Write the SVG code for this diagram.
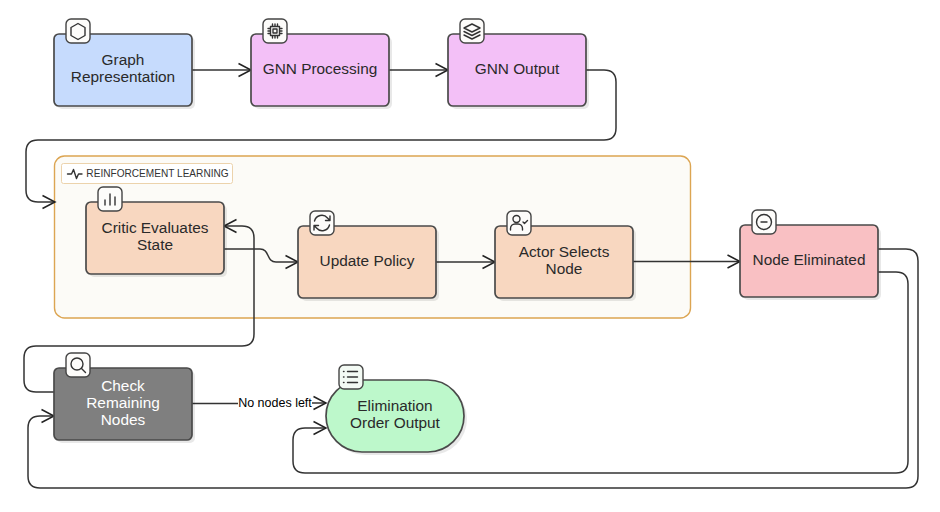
<svg xmlns="http://www.w3.org/2000/svg" width="940" height="512" viewBox="0 0 940 512">
<style>
text{font-family:"Liberation Sans",Arial,sans-serif;font-size:15.400px;fill:#2a2a2a;text-anchor:middle}
.n{stroke:#4a4a4a;stroke-width:1.700}
.s{fill:#000;opacity:.09}
.b{fill:#fdfcfa;stroke:#444;stroke-width:1.400}
.i{fill:none;stroke:#333;stroke-width:1.400;stroke-linecap:round;stroke-linejoin:round}
.c{fill:none;stroke:#333;stroke-width:1.500;marker-end:url(#a)}
.d{fill:none;stroke:#333;stroke-width:1.500}
</style>
<defs>
<marker id="a" markerUnits="userSpaceOnUse" markerWidth="16" markerHeight="16" refX="12.500" refY="6.500" orient="auto" overflow="visible">
<path d="M0 0L12.500 6.500L0 13" fill="none" stroke="#222" stroke-width="1.500"/>
</marker>
</defs>
<g id="group-rl">
<rect x="54.500" y="156" width="636" height="162" rx="10" fill="#fcfbf7" stroke="#dca552" stroke-width="1.400"/>
<rect x="61.500" y="163.500" width="171" height="20" rx="2" fill="#fff" stroke="#ecd3ac"/>
<path class="i" d="M67.500 174h4l2-4.500 3 9 2-4.500h3.500"/>
<text x="157.500" y="177" style="font-size:10.100px;fill:#333">REINFORCEMENT LEARNING</text>
</g>
<g id="connectors">
<path class="c" d="M192 70H251"/>
<path class="c" d="M389 70H448"/>
<path class="c" d="M586 70H604Q616 70 616 82V128Q616 140 604 140H38Q26 140 26 152V190Q26 202 38 202H55"/>
<path class="c" d="M224 249H260C270 249 266 262 276 262H298"/>
<path class="c" d="M436 262H495"/>
<path class="c" d="M633 261.500H740"/>
<path class="c" d="M54 392H36Q24 392 24 380V358Q24 346 36 346H242Q254 346 254 334V238Q254 226 242 226H224"/>
<path class="c" d="M878 249H906Q918 249 918 261V476Q918 488 906 488H40Q28 488 28 476V428Q28 416 40 416H54"/>
<path class="c" d="M878 272H896Q908 272 908 284V461Q908 473 896 473H305Q293 473 293 461V440Q293 428 305 428H326"/>
<path class="d" d="M192 403.500H238"/>
<path class="c" d="M312 403H326"/>
</g>
<g id="node-graph">
<rect class="s" x="57" y="37" width="138" height="72" rx="5"/>
<rect class="n" x="54" y="34" width="138" height="72" rx="5" fill="#c6dbfd"/>
<text x="123" y="65">Graph</text><text x="123" y="82">Representation</text>
<rect class="b" x="66" y="19" width="24" height="24" rx="5"/>
<path class="i" d="M78 23.500l7 4v8l-7 4-7-4v-8z"/>
</g>
<g id="node-gnn-processing">
<rect class="s" x="254" y="37" width="138" height="72" rx="5"/>
<rect class="n" x="251" y="34" width="138" height="72" rx="5" fill="#f3c0f7"/>
<text x="320" y="74">GNN Processing</text>
<rect class="b" x="263" y="19" width="24" height="24" rx="5"/>
<path class="i" d="M270.500 26.500h9v9h-9zM273 29h4v4h-4zM272.500 24v2.500M275 24v2.500M277.500 24v2.500M272.500 35.500v2.500M275 35.500v2.500M277.500 35.500v2.500M268 28.500h2.500M268 31h2.500M268 33.500h2.500M279.500 28.500h2.500M279.500 31h2.500M279.500 33.500h2.500"/>
</g>
<g id="node-gnn-output">
<rect class="s" x="451" y="37" width="138" height="72" rx="5"/>
<rect class="n" x="448" y="34" width="138" height="72" rx="5" fill="#f3c0f7"/>
<text x="517" y="74">GNN Output</text>
<rect class="b" x="460" y="19" width="24" height="24" rx="5"/>
<path class="i" d="M472 24l8 4-8 4-8-4zM464 31.500l8 4 8-4M464 35l8 4 8-4"/>
</g>
<g id="node-critic">
<rect class="s" x="89" y="205" width="138" height="72" rx="5"/>
<rect class="n" x="86" y="202" width="138" height="72" rx="5" fill="#f8d7c0"/>
<text x="155" y="233">Critic Evaluates</text><text x="155" y="250">State</text>
<rect class="b" x="98" y="187" width="24" height="24" rx="5"/>
<path class="i" d="M105 205v-5M110 205v-11M115 205v-8"/>
</g>
<g id="node-update">
<rect class="s" x="301" y="229" width="138" height="72" rx="5"/>
<rect class="n" x="298" y="226" width="138" height="72" rx="5" fill="#f8d7c0"/>
<text x="367" y="266">Update Policy</text>
<rect class="b" x="310" y="211" width="24" height="24" rx="5"/>
<path class="i" d="M314.500 221a7.500 7.500 0 0 1 13-3l2.500 2.500M330 216v4.500h-4.500M329.500 225a7.500 7.500 0 0 1-13 3l-2.500-2.500M314 230v-4.500h4.500"/>
</g>
<g id="node-actor">
<rect class="s" x="498" y="229" width="138" height="72" rx="5"/>
<rect class="n" x="495" y="226" width="138" height="72" rx="5" fill="#f8d7c0"/>
<text x="564" y="257">Actor Selects</text><text x="564" y="274">Node</text>
<rect class="b" x="507" y="211" width="24" height="24" rx="5"/>
<circle class="i" cx="516.500" cy="219" r="3.500"/>
<path class="i" d="M510.500 230v-1.500a4.500 4.500 0 0 1 4.500-4.500h3a4.500 4.500 0 0 1 4.500 4.500v1.500M523 222l1.500 1.500 3-3"/>
</g>
<g id="node-eliminated">
<rect class="s" x="743" y="228" width="138" height="72" rx="5"/>
<rect class="n" x="740" y="225" width="138" height="72" rx="5" fill="#f9c0c3"/>
<text x="809" y="265">Node Eliminated</text>
<rect class="b" x="752" y="210" width="24" height="24" rx="5"/>
<circle class="i" cx="764" cy="222" r="7.500"/>
<path class="i" d="M761 222h6"/>
</g>
<g id="node-check">
<rect class="s" x="57" y="371" width="138" height="72" rx="5"/>
<rect class="n" x="54" y="368" width="138" height="72" rx="5" fill="#7f7f7f"/>
<text x="123" y="391" style="fill:#fff">Check</text><text x="123" y="408" style="fill:#fff">Remaining</text><text x="123" y="425" style="fill:#fff">Nodes</text>
<rect class="b" x="66" y="353" width="24" height="24" rx="5"/>
<circle class="i" cx="77" cy="364" r="6"/>
<path class="i" d="M81.500 368.500l4 4"/>
</g>
<g id="node-output">
<rect class="s" x="329" y="383" width="138" height="72" rx="36"/>
<rect class="n" x="326" y="380" width="138" height="72" rx="36" fill="#bdf8cb"/>
<text x="395" y="411">Elimination</text><text x="395" y="428">Order Output</text>
<rect class="b" x="339" y="365" width="24" height="24" rx="5" style="fill:#f3faf4"/>
<path class="i" d="M347.500 371.500h10M347.500 377h10M347.500 382.500h10M343.500 371.500h.5M343.500 377h.5M343.500 382.500h.5"/>
</g>
<text id="edge-label" x="275" y="406.500" style="font-size:12.500px;fill:#000">No nodes left</text>
</svg>
